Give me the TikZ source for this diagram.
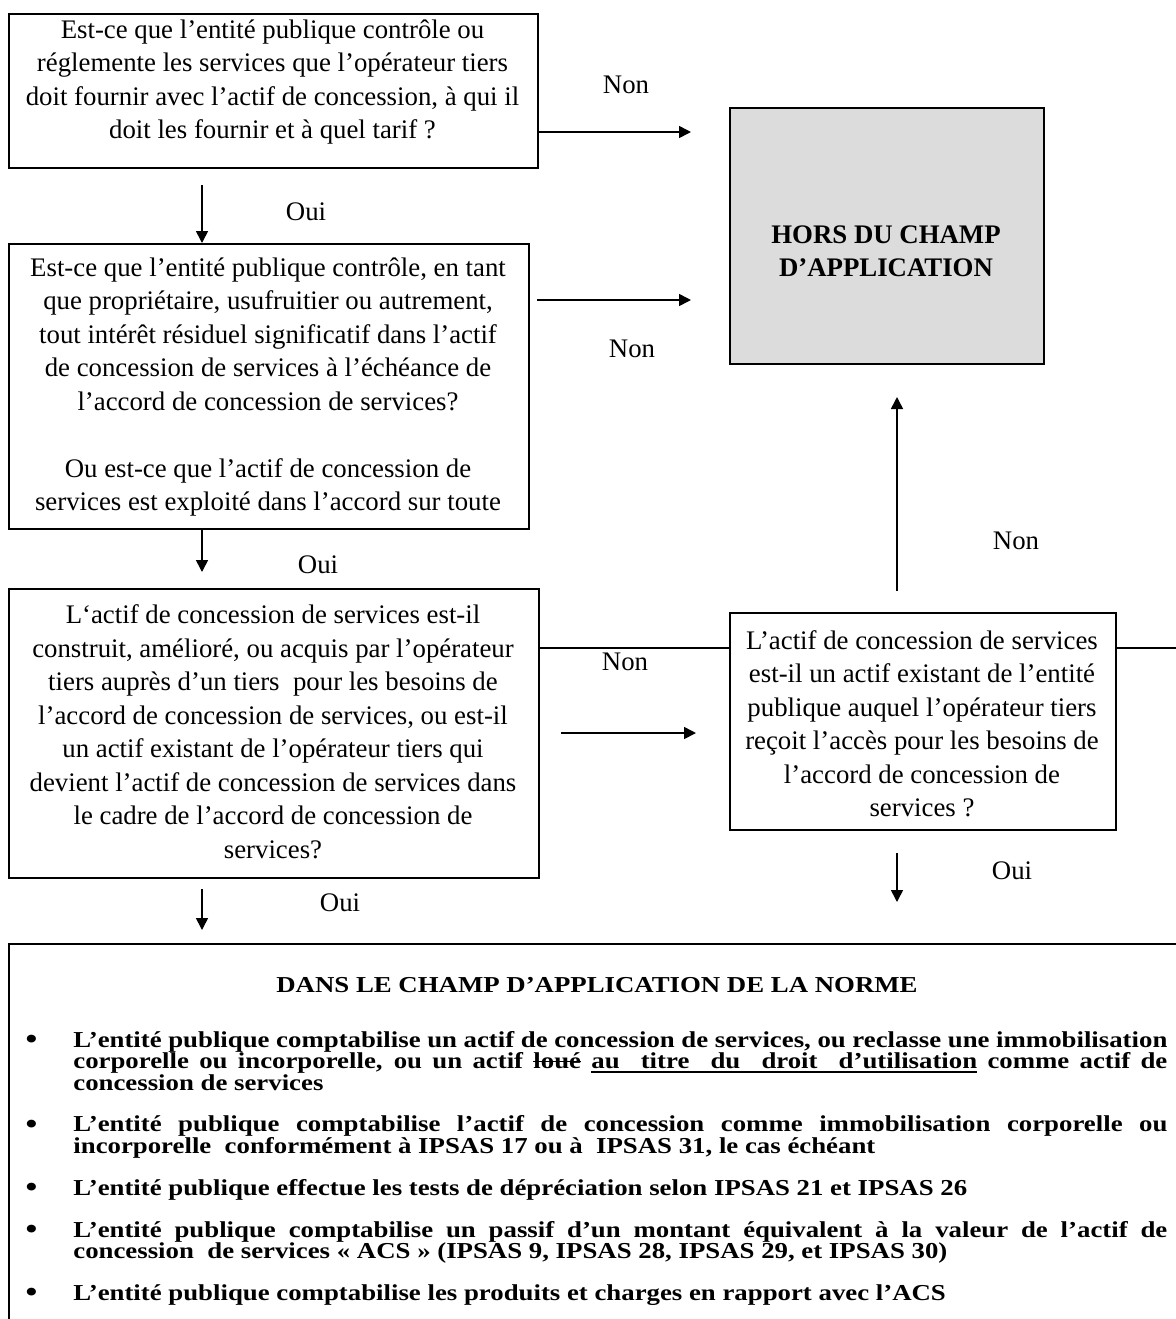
\documentclass[tikz,border=0pt]{standalone}
\usepackage{fontspec}
\setmainfont{Liberation Serif}
\usepackage{graphicx}
\usetikzlibrary{arrows.meta}
\definecolor{horsfill}{RGB}{220,220,220}
% struck-through and underlined words, plus an underlined stretchable space
\newsavebox\markbox
\newcommand\strikeword[1]{\sbox\markbox{#1}\rlap{\usebox\markbox}\rule[0.27em]{\wd\markbox}{0.07em}}
\newcommand\ulword[1]{\sbox\markbox{#1}\rlap{\usebox\markbox}\rule[-0.2em]{\wd\markbox}{0.07em}}
\newcommand\ulspace{\leaders\vrule height -0.13em depth 0.2em\hskip 0.25em plus 0.5em minus 0.08em\relax}
\newcommand\listdot{\llap{\raisebox{-0.05em}{\scalebox{1.25}{\textbullet}}\hspace{18pt}}}
\newcommand\bulletitem{\par\noindent\listdot}
\begin{document}
\begin{tikzpicture}[x=0.5pt,y=-0.5pt,
  box/.style={draw=black, line width=0.9pt, inner sep=0pt, anchor=north west},
  qtext/.style={align=center, inner sep=0pt, font=\fontsize{13.4pt}{16.75pt}\selectfont},
  lbl/.style={inner sep=0pt, font=\fontsize{13.4pt}{16pt}\selectfont},
  flow/.style={line width=0.8pt, -{Triangle[length=6pt,width=6pt]}},
  plainline/.style={line width=0.8pt}
]
\useasboundingbox (0,0) rectangle (1176,1319);
\clip (0,0) rectangle (1176,1319);
\fill[white] (0,0) rectangle (1176,1319);

% ---------- question boxes ----------
\node[box, minimum width=264.5pt, minimum height=77pt] (q1) at (8,13) {};
\node[qtext] (q1t) at (272.5,82) {Est-ce que l’entité publique contrôle ou\\
réglemente les services que l’opérateur tiers\\
doit fournir avec l’actif de concession, à qui il\\
doit les fournir et à quel tarif ?};

\node[box, minimum width=260pt, minimum height=142.5pt] (q2) at (8,243) {};
\node[qtext] (q2t) at (268,387) {Est-ce que l’entité publique contrôle, en tant\\
que propriétaire, usufruitier ou autrement,\\
tout intérêt résiduel significatif dans l’actif\\
de concession de services à l’échéance de\\
l’accord de concession de services?\\[16.75pt]
Ou est-ce que l’actif de concession de\\
services est exploité dans l’accord sur toute};

\node[box, minimum width=265pt, minimum height=144.5pt] (q3) at (8,588) {};
\node[qtext] (q3t) at (273,731.5) {L‘actif de concession de services est-il\\
construit, amélioré, ou acquis par l’opérateur\\
tiers auprès d’un tiers\ \ pour les besoins de\\
l’accord de concession de services, ou est-il\\
un actif existant de l’opérateur tiers qui\\
devient l’actif de concession de services dans\\
le cadre de l’accord de concession de\\
services?};

\node[box, minimum width=193pt, minimum height=108.5pt] (q4) at (729,612) {};
\node[qtext] (q4t) at (922,723.5) {L’actif de concession de services\\
est-il un actif existant de l’entité\\
publique auquel l’opérateur tiers\\
reçoit l’accès pour les besoins de\\
l’accord de concession de\\
services ?};

% ---------- outcome boxes ----------
\node[box, fill=horsfill, line width=1.1pt, minimum width=157pt, minimum height=128pt] (hors) at (729,107) {};
\node[qtext, font=\fontsize{13.4pt}{16.5pt}\selectfont\bfseries] (horst) at (886,251) {HORS DU CHAMP\\D’APPLICATION};

\node[box, line width=1.1pt, minimum width=600pt, minimum height=200pt] (scope) at (8,943) {};
\node[inner sep=0pt, font=\fontsize{13.4pt}{16pt}\selectfont\bfseries] (scopet) at (597,985)
  {\scalebox{1}[0.85]{DANS LE CHAMP D’APPLICATION DE LA NORME}};
\node[inner sep=0pt, anchor=base west] (scopelist) at (30,1047) {\scalebox{1}[0.85]{%
\parbox[t]{568.5pt}{\fontsize{13.4pt}{12.65pt}\selectfont\bfseries
\leftskip=21.5pt \parskip=12pt \parindent=0pt
\noindent\listdot L’entité publique comptabilise un actif de concession de services, ou reclasse une immobilisation\linebreak
corporelle ou incorporelle, ou un actif \strikeword{loué} \ulword{au}\ulspace\ulword{titre}\ulspace\ulword{du}\ulspace\ulword{droit}\ulspace\ulword{d’utilisation} comme actif de\linebreak
concession de services
\bulletitem L’entité publique comptabilise l’actif de concession comme immobilisation corporelle ou\linebreak
incorporelle\ \ conformément à IPSAS 17 ou à\ \ IPSAS 31, le cas échéant
\bulletitem L’entité publique effectue les tests de dépréciation selon IPSAS 21 et IPSAS 26
\bulletitem L’entité publique comptabilise un passif d’un montant équivalent à la valeur de l’actif de\linebreak
concession\ \ de services « ACS » (IPSAS 9, IPSAS 28, IPSAS 29, et IPSAS 30)
\bulletitem L’entité publique comptabilise les produits et charges en rapport avec l’ACS\par}}};

% ---------- free ends of connectors ----------
\coordinate (n1end) at (691,132);
\coordinate (n2start) at (537,300);
\coordinate (n2end) at (691,300);
\coordinate (o1start) at (202,185);
\coordinate (o2end) at (202,572);
\coordinate (o3start) at (202,889);
\coordinate (o3end) at (202,930);
\coordinate (o4start) at (897,853);
\coordinate (o4end) at (897,902);
\coordinate (upstart) at (897,591);
\coordinate (upend) at (897,397);
\coordinate (n3start) at (561,733);
\coordinate (n3end) at (696,733);
\coordinate (crossy) at (0,648);
\coordinate (offright) at (1190,648);

% ---------- connectors ----------
\draw[flow] (q1.east |- n1end) -- (n1end);
\draw[flow] (n2start) -- (n2end);
\draw[flow] (o1start) -- (o1start |- q2.north);
\draw[flow] (q2.south -| o2end) -- (o2end);
\draw[flow] (o3start) -- (o3end);
\draw[flow] (o4start) -- (o4end);
\draw[flow] (upstart) -- (upend);
\draw[flow] (n3start) -- (n3end);
\draw[plainline] (q3.east |- crossy) -- (q4.west |- crossy);
\draw[plainline] (q4.east |- crossy) -- (offright);

% ---------- answer labels ----------
\node[lbl] (lnon1) at (626,85) {Non};
\node[lbl] (lnon2) at (632,349) {Non};
\node[lbl] (lnon3) at (625,662) {Non};
\node[lbl] (lnon4) at (1016,541) {Non};
\node[lbl] (loui1) at (306,212) {Oui};
\node[lbl] (loui2) at (318,565) {Oui};
\node[lbl] (loui3) at (340,903) {Oui};
\node[lbl] (loui4) at (1012,871) {Oui};
\end{tikzpicture}
\end{document}
